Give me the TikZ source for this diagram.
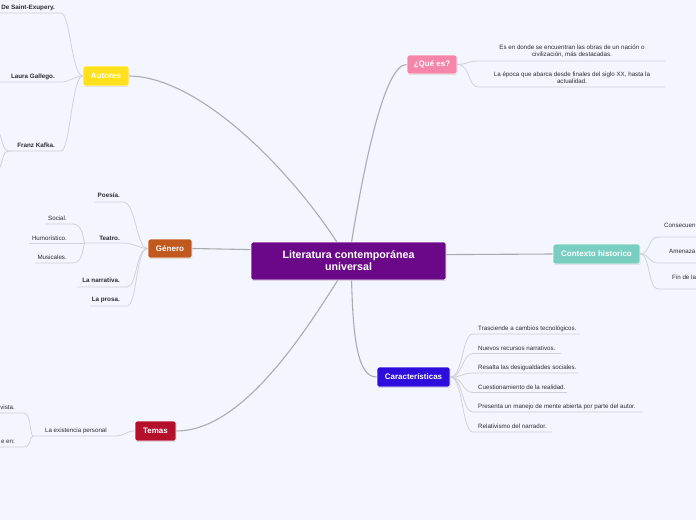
\documentclass[tikz,border=0pt]{standalone}
\usepackage{fontspec}
\setmainfont{Liberation Sans}
\usetikzlibrary{calc,shadows}
\definecolor{bg}{RGB}{243,246,254}
\definecolor{maingray}{RGB}{172,172,176}
\definecolor{subgray}{RGB}{208,208,214}
\definecolor{txt}{RGB}{45,45,50}
\definecolor{cpurple}{RGB}{107,8,137}
\definecolor{cyellow}{RGB}{255,224,28}
\definecolor{corange}{RGB}{193,89,30}
\definecolor{cred}{RGB}{181,16,43}
\definecolor{cpink}{RGB}{245,134,168}
\definecolor{cteal}{RGB}{120,206,193}
\definecolor{cblue}{RGB}{44,13,220}
\begin{document}
\begin{tikzpicture}[x=1pt,y=-1pt,
  main/.style={draw=maingray,line width=1.1pt},
  sub/.style={draw=subgray,line width=0.75pt},
  topic/.style={rounded corners=2pt,draw=white,line width=0.8pt,text=white,
    font=\bfseries\fontsize{8}{9}\selectfont,inner sep=0pt,
    drop shadow={shadow xshift=0.4pt,shadow yshift=-0.9pt,opacity=0.25}},
  lb/.style={font=\bfseries\fontsize{6.3}{7}\selectfont,text=txt,inner sep=0pt},
  lr/.style={font=\fontsize{6.2}{7}\selectfont,text=txt,inner sep=0pt}]
\useasboundingbox (0,0) rectangle (696,520);
\fill[bg] (0,0) rectangle (696,520);
\clip (0,0) rectangle (696,520);

% topics
\node[topic,fill=cpurple,minimum width=195pt,minimum height=38pt,align=center,
  font=\bfseries\fontsize{10.7}{12}\selectfont] (cen) at (348.5,261) {Literatura contemporánea\\universal};
\node[topic,fill=cyellow,minimum width=46pt,minimum height=20pt] (aut) at (106,76) {Autores};
\node[topic,fill=corange,minimum width=44pt,minimum height=19pt] (gen) at (170,248.5) {Género};
\node[topic,fill=cred,minimum width=41pt,minimum height=20pt] (tem) at (155.5,431) {Temas};
\node[topic,fill=cpink,minimum width=50pt,minimum height=19pt] (que) at (432,64.5) {¿Qué es?};
\node[topic,fill=cteal,minimum width=87pt,minimum height=20pt] (ctx) at (596.5,254) {Contexto historico};
\node[topic,fill=cblue,minimum width=73pt,minimum height=20pt] (car) at (413.5,377) {Características};

% main connectors
\draw[main] (aut.east) .. controls (200,77) and (290,170) .. ($(cen.north west)+(86,0)$);
\draw[main] ($(cen.north west)+(0,8)$) .. controls (220,249) .. (gen.east);
\draw[main] ($(cen.south west)+(87,0)$) .. controls (300,340) and (240,431) .. (tem.east);
\draw[main] ($(cen.north west)+(101,0)$) .. controls (365,160) and (385,64) .. (que.west);
\draw[main] ($(cen.north east)+(0,13)$) .. controls (500,255) .. (ctx.west);
\draw[main] ($(cen.south west)+(101,0)$) .. controls (353,340) and (358,377) .. (car.west);

% Autores children
\node[lb,anchor=base east] (a1) at (55,9) {De Saint-Exupery.};
\node[lb,anchor=base east] (a2) at (55,78) {Laura Gallego.};
\node[lb,anchor=base east] (a3) at (55,147) {Franz Kafka.};
\coordinate (a1r) at (61,13); \coordinate (a1l) at (-2,13);
\coordinate (a2r) at (61,82); \coordinate (a2l) at (-2,82);
\coordinate (a3r) at (61,151); \coordinate (a3l) at (12,151);
\coordinate (a3u) at (-2,130); \coordinate (a3d) at (-2,172);
\draw[sub] (aut.west) .. controls (72,76) and (70,13) .. (a1r) -- (a1l);
\draw[sub] (aut.west) .. controls (74,76) and (70,82) .. (a2r) -- (a2l);
\draw[sub] (aut.west) .. controls (72,76) and (70,151) .. (a3r) -- (a3l);
\draw[sub] (a3l) -- (8,151) .. controls (3,151) and (3,140) .. (a3u);
\draw[sub] (a3l) -- (8,151) .. controls (3,151) and (3,162) .. (a3d);

% Genero children
\node[lb,anchor=base east] (g1) at (120,197) {Poesía.};
\node[lb,anchor=base east] (g2) at (120,240) {Teatro.};
\node[lb,anchor=base east] (g3) at (120,282) {La narrativa.};
\node[lb,anchor=base east] (g4) at (120,301) {La prosa.};
\coordinate (g1r) at (123,202); \coordinate (g1l) at (94,202);
\coordinate (g2r) at (123,243); \coordinate (g2l) at (85,243);
\coordinate (g3r) at (127,287); \coordinate (g3l) at (77,287);
\coordinate (g4r) at (127,306); \coordinate (g4l) at (90,306);
\draw[sub] (gen.west) .. controls (136,248) and (136,202) .. (g1r) -- (g1l);
\draw[sub] (gen.west) .. controls (138,248) and (134,243) .. (g2r) -- (g2l);
\draw[sub] (gen.west) .. controls (136,248) and (137,287) .. (g3r) -- (g3l);
\draw[sub] (gen.west) .. controls (136,248) and (137,306) .. (g4r) -- (g4l);
\node[lr,anchor=base east] (t1) at (67,220) {Social.};
\node[lr,anchor=base east] (t2) at (67,240) {Humorístico.};
\node[lr,anchor=base east] (t3) at (67,259) {Musicales.};
\coordinate (t1r) at (73,224); \coordinate (t1l) at (45,224);
\coordinate (t2l) at (29,243);
\coordinate (t3r) at (73,263); \coordinate (t3l) at (35,263);
\draw[sub] (g2l) .. controls (83,243) and (84,224) .. (t1r) -- (t1l);
\draw[sub] (g2l) -- (t2l);
\draw[sub] (g2l) .. controls (83,243) and (84,263) .. (t3r) -- (t3l);

% Temas children
\node[lr,anchor=base east] (m1) at (107,432) {La existencia personal};
\coordinate (m1r) at (117,436); \coordinate (m1l) at (33,436);
\draw[sub] (tem.west) .. controls (126,431) and (124,436) .. (m1r) -- (m1l);
\node[lr,anchor=base east] (m2) at (15,409) {vista.};
\node[lr,anchor=base east] (m3) at (15,443) {e en:};
\coordinate (m2r) at (24,413); \coordinate (m2l) at (-2,413);
\coordinate (m3r) at (24,447); \coordinate (m3l) at (-2,447);
\draw[sub] (m1l) .. controls (30,436) and (31,413) .. (m2r) -- (m2l);
\draw[sub] (m1l) .. controls (30,436) and (31,447) .. (m3r) -- (m3l);

% Que es children
\node[lr,align=center] (q1) at (572,51.5) {Es en donde se encuentran las obras de un nación o\\civilización, más destacadas.};
\node[lr,align=center] (q2) at (572,77.5) {La época que abarca desde finales del siglo XX, hasta la\\actualidad.};
\coordinate (q1l) at (478,61); \coordinate (q1r) at (665,61);
\coordinate (q2l) at (478,87); \coordinate (q2r) at (665,87);
\draw[sub] (que.east) .. controls (468,64) and (468,61) .. (q1l) -- (q1r);
\draw[sub] (que.east) .. controls (470,64) and (468,87) .. (q2l) -- (q2r);

% Contexto children
\node[lr,anchor=base west] (x1) at (664,227) {Consecuen};
\node[lr,anchor=base west] (x2) at (669,253) {Amenaza};
\node[lr,anchor=base west] (x3) at (672,279) {Fin de la};
\coordinate (x1l) at (658,237); \coordinate (x1r) at (700,237);
\coordinate (x2l) at (658,263); \coordinate (x2r) at (700,263);
\coordinate (x3l) at (658,289); \coordinate (x3r) at (700,289);
\draw[sub] (ctx.east) .. controls (650,254) and (648,237) .. (x1l) -- (x1r);
\draw[sub] (ctx.east) .. controls (650,254) and (648,263) .. (x2l) -- (x2r);
\draw[sub] (ctx.east) .. controls (650,254) and (648,289) .. (x3l) -- (x3r);

% Caracteristicas children
\node[lr,anchor=base west] (c1) at (478,330) {Trasciende a cambios tecnológicos.};
\node[lr,anchor=base west] (c2) at (478,350) {Nuevos recursos narrativos.};
\node[lr,anchor=base west] (c3) at (478,369) {Resalta las desigualdades sociales.};
\node[lr,anchor=base west] (c4) at (478,389) {Cuestionamiento de la realidad.};
\node[lr,anchor=base west] (c5) at (478,408) {Presenta un manejo de mente abierta por parte del autor.};
\node[lr,anchor=base west] (c6) at (478,428) {Relativismo del narrador.};
\coordinate (c1l) at (473,334); \coordinate (c1r) at (580,334);
\coordinate (c2l) at (473,353.5); \coordinate (c2r) at (561,353.5);
\coordinate (c3l) at (473,373); \coordinate (c3r) at (579,373);
\coordinate (c4l) at (473,392.5); \coordinate (c4r) at (567,392.5);
\coordinate (c5l) at (473,412); \coordinate (c5r) at (643,412);
\coordinate (c6l) at (473,432); \coordinate (c6r) at (552,432);
\foreach \i in {1,...,6}{
  \draw[sub] (car.east) .. controls (463,377) and (462,0|-c\i l) .. (c\i l) -- (c\i r);
}
\end{tikzpicture}
\end{document}
